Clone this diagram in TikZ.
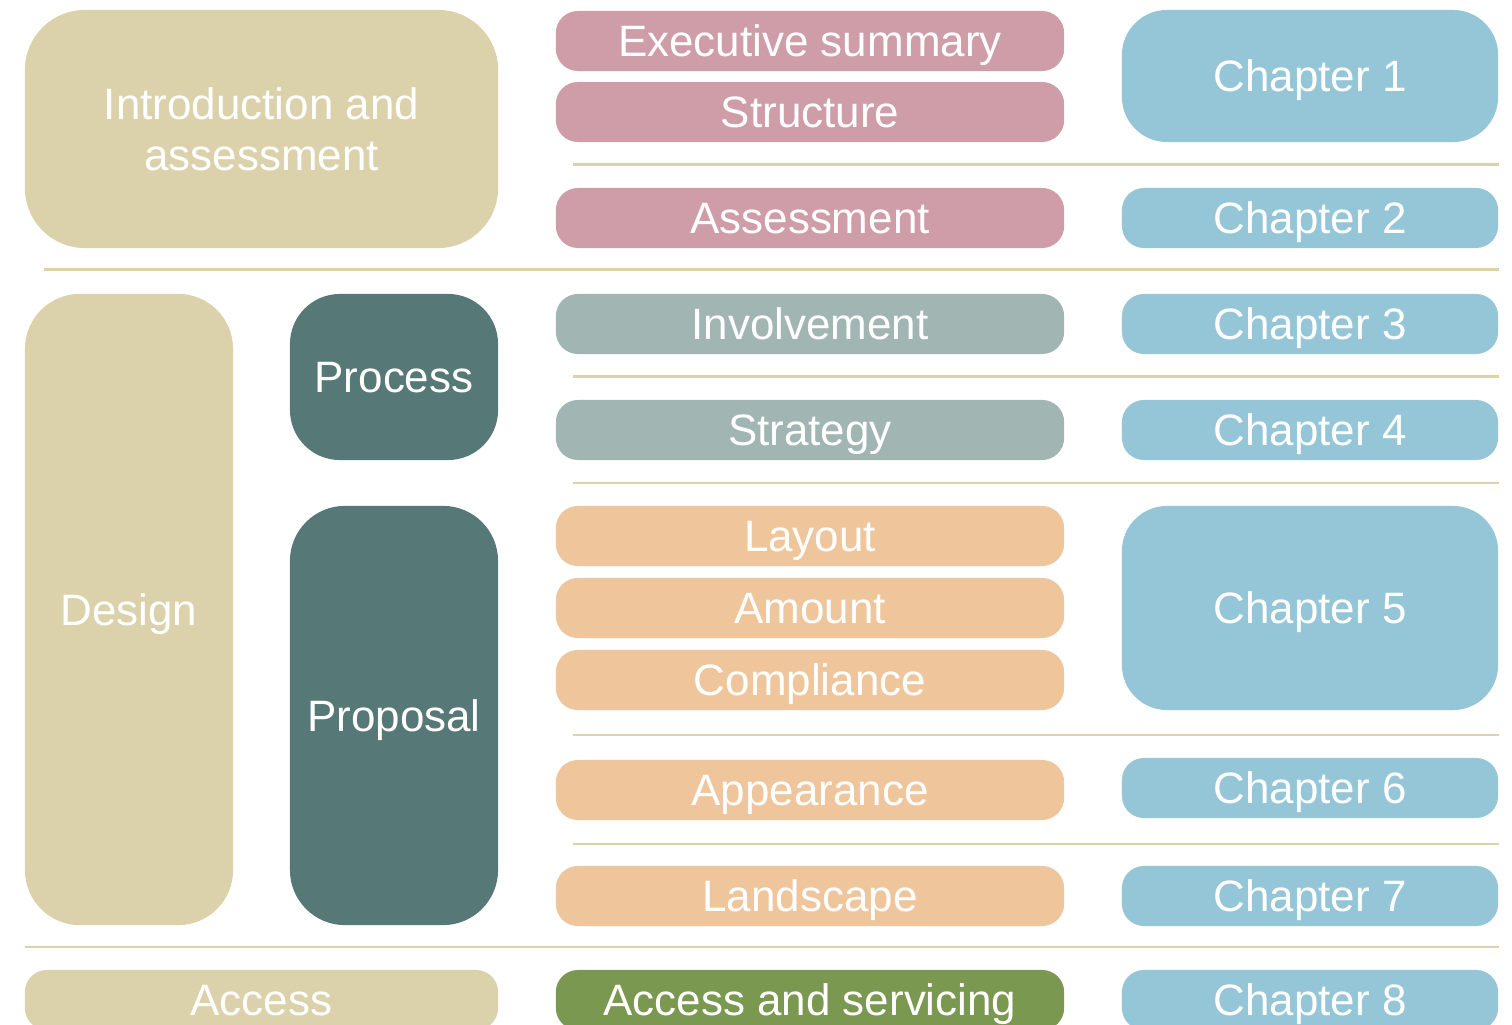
\documentclass[tikz,border=0pt]{standalone}
\usepackage{fontspec}
\setmainfont{Liberation Sans}
\usepackage{tikz}
\usetikzlibrary{calc}

\definecolor{sand}{HTML}{DBD2AC}
\definecolor{rose}{HTML}{CE9DA8}
\definecolor{slate}{HTML}{567876}
\definecolor{sage}{HTML}{A1B5B3}
\definecolor{peach}{HTML}{EFC69C}
\definecolor{sky}{HTML}{95C6D8}
\definecolor{moss}{HTML}{7A9850}

\tikzset{
	box/.style={draw=none, text=white, inner sep=0pt, align=center, text height=9pt, text depth=0pt, font=\fontsize{12.5}{14.5}\selectfont},
	pill/.style={box, rounded corners=0.22cm, minimum width=5.08cm, minimum height=0.6cm},
	chap/.style={box, rounded corners=0.22cm, minimum width=3.76cm, minimum height=0.6cm},
	rule/.style={draw=sand, line width=0.85pt}
}

\begin{document}
\begin{tikzpicture}[x=0.01cm, y=-0.01cm]
	\useasboundingbox (0,0) rectangle (1512,1025);
	\clip (0,0) rectangle (1512,1025);

	% left column
	\node[box, text height={}, text depth={}, fill=sand, rounded corners=0.6cm, minimum width=4.73cm, minimum height=2.38cm] (intro) at (261.5,129) {Introduction and\\assessment};
	\node[box, fill=sand, rounded corners=0.55cm, minimum width=2.08cm, minimum height=6.31cm] (design) at (129,609.5) {Design};
	\node[box, fill=slate, rounded corners=0.5cm, minimum width=2.08cm, minimum height=1.66cm] (process) at (394,377) {Process};
	\node[box, fill=slate, rounded corners=0.55cm, minimum width=2.08cm, minimum height=4.19cm] (proposal) at (394,715.5) {Proposal};
	\node[box, fill=sand, rounded corners=0.22cm, minimum width=4.73cm, minimum height=0.6cm] (access) at (261.5,1000) {Access};

	% middle column
	\node[pill, fill=rose] (exec) at (810,41) {Executive summary};
	\node[pill, fill=rose] (struct) at (810,112) {Structure};
	\node[pill, fill=rose] (assess) at (810,218) {Assessment};
	\node[pill, fill=sage] (involve) at (810,324) {Involvement};
	\node[pill, fill=sage] (strat) at (810,430) {Strategy};
	\node[pill, fill=peach] (layout) at (810,536) {Layout};
	\node[pill, fill=peach] (amount) at (810,608) {Amount};
	\node[pill, fill=peach] (comply) at (810,680) {Compliance};
	\node[pill, fill=peach] (appear) at (810,790) {Appearance};
	\node[pill, fill=peach] (land) at (810,896) {Landscape};
	\node[pill, fill=moss] (servicing) at (810,1000) {Access and servicing};

	% right column
	\node[chap, fill=sky, rounded corners=0.45cm, minimum height=1.32cm] (ch1) at (1310,76) {Chapter 1};
	\node[chap, fill=sky] (ch2) at (1310,218) {Chapter 2};
	\node[chap, fill=sky] (ch3) at (1310,324) {Chapter 3};
	\node[chap, fill=sky] (ch4) at (1310,430) {Chapter 4};
	\node[chap, fill=sky, rounded corners=0.45cm, minimum height=2.04cm] (ch5) at (1310,608) {Chapter 5};
	\node[chap, fill=sky] (ch6) at (1310,788) {Chapter 6};
	\node[chap, fill=sky] (ch7) at (1310,896) {Chapter 7};
	\node[chap, fill=sky] (ch8) at (1310,1000) {Chapter 8};

	% separators
	\coordinate (r1) at (573,165);
	\coordinate (r2) at (44,270);
	\coordinate (r3) at (573,377);
	\coordinate (r4) at (573,483);
	\coordinate (r5) at (573,735);
	\coordinate (r6) at (573,844);
	\coordinate (r7) at (25,947);
	\foreach \r in {r1,r2,r3,r4,r5,r6,r7}
		\draw[rule] (\r) -- (\r -| ch1.east);
\end{tikzpicture}
\end{document}
